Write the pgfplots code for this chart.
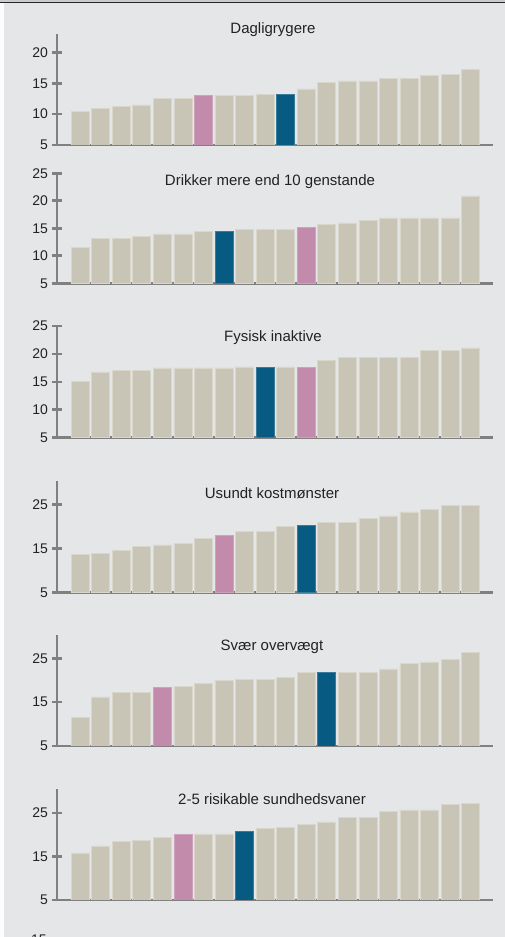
\documentclass[border=0pt]{standalone}
\usepackage{fontspec}
\setmainfont{Liberation Sans}
\usepackage{pgfplots}
\pgfplotsset{compat=1.18}
\definecolor{bg}{HTML}{E5E6E8}
\definecolor{barc}{HTML}{C8C4B6}
\definecolor{barpink}{HTML}{C28BAC}
\definecolor{barblue}{HTML}{075A82}
\definecolor{axc}{HTML}{808080}
\definecolor{txt}{HTML}{222222}
\pgfplotsset{
  panel/.style={
    scale only axis, width=436pt,
    xmin=-1.12, xmax=20.09, ymin=5,
    axis lines=left,
    axis line style={-, line width=2.8pt, color=axc},
    x axis line style={shorten <=-5pt},
    xtick=\empty,
    major tick length=9pt, tick align=center,
    tick style={line width=2.6pt, color=axc},
    yticklabel style={font=\fontsize{14}{15}\selectfont, text=txt, xshift=-1pt},
    /pgf/number format/assume math mode=true,
    enlargelimits=false,
    anchor=south west,
  },
  gb/.style={ybar, bar width=18pt, fill=barc, draw=barc!70!white, line width=0.5pt},
  pb/.style={ybar, bar width=18pt, fill=barpink, draw=barpink!80!white, line width=0.5pt},
  bb/.style={ybar, bar width=18pt, fill=barblue, draw=barblue!80!white, line width=0.5pt},
}
\tikzset{ttl/.style={text=txt, font=\fontsize{15}{17}\selectfont}}
\begin{document}
\begin{tikzpicture}
\path[use as bounding box] (0pt,0pt) rectangle (505pt,937pt);
\fill[bg] (0pt,0pt) rectangle (505pt,937pt);
\fill[white!94!bg] (0pt,0pt) rectangle (4pt,934pt);
\fill[black!20] (0pt,934pt) rectangle (505pt,937pt);
\draw[black!85, line width=1.4pt] (0pt,934.2pt) -- (505pt,934.2pt);

% Panel 1
\begin{axis}[panel, at={(57pt,792pt)}, height=111pt, ymax=23, ytick={5,10,15,20}]
\addplot[gb] coordinates {(0,10.4) (1,10.9) (2,11.3) (3,11.5) (4,12.6) (5,12.6) (7,13.0) (8,13.0) (9,13.2) (11,14.1) (12,15.2) (13,15.4) (14,15.4) (15,15.8) (16,15.8) (17,16.3) (18,16.5) (19,17.3)};
\addplot[pb] coordinates {(6,13.0)};
\addplot[bb] coordinates {(10,13.2)};
\end{axis}
\node[ttl] at (273pt,907pt) {Dagligrygere};

% Panel 2
\begin{axis}[panel, at={(57pt,653.7pt)}, height=110pt, ymax=25, ytick={5,10,15,20,25}]
\addplot[gb] coordinates {(0,11.5) (1,13.2) (2,13.2) (3,13.5) (4,14.0) (5,14.0) (6,14.5) (8,14.8) (9,14.8) (10,14.8) (12,15.7) (13,16.0) (14,16.5) (15,16.9) (16,16.9) (17,16.9) (18,16.9) (19,20.9)};
\addplot[bb] coordinates {(7,14.5)};
\addplot[pb] coordinates {(11,15.2)};
\end{axis}
\node[ttl] at (270pt,755.3pt) {Drikker mere end 10 genstande};

% Panel 3
\begin{axis}[panel, at={(57pt,499.3pt)}, height=111.7pt, ymax=25, ytick={5,10,15,20,25}]
\addplot[gb] coordinates {(0,15.1) (1,16.8) (2,17.0) (3,17.0) (4,17.5) (5,17.5) (6,17.5) (7,17.5) (8,17.7) (10,17.7) (12,18.9) (13,19.4) (14,19.4) (15,19.4) (16,19.4) (17,20.6) (18,20.6) (19,21.1)};
\addplot[bb] coordinates {(9,17.7)};
\addplot[pb] coordinates {(11,17.7)};
\end{axis}
\node[ttl] at (273pt,599pt) {Fysisk inaktive};

% Panel 4
\begin{axis}[panel, at={(57pt,344.7pt)}, height=111.6pt, ymax=30.4, ytick={5,15,25}]
\addplot[gb] coordinates {(0,13.6) (1,13.9) (2,14.5) (3,15.5) (4,15.8) (5,16.1) (6,17.3) (8,18.8) (9,18.8) (10,20.0) (12,20.9) (13,20.9) (14,21.8) (15,22.4) (16,23.3) (17,23.9) (18,24.8) (19,24.8)};
\addplot[pb] coordinates {(7,17.9)};
\addplot[bb] coordinates {(11,20.3)};
\end{axis}
\node[ttl] at (272pt,444pt) {Usundt kostmønster};

% Panel 5
\begin{axis}[panel, at={(57pt,191pt)}, height=111pt, ymax=30.3, ytick={5,15,25}]
\addplot[gb] coordinates {(0,11.6) (1,16.2) (2,17.2) (3,17.2) (5,18.6) (6,19.3) (7,19.9) (8,20.2) (9,20.2) (10,20.7) (11,21.7) (13,21.7) (14,21.7) (15,22.6) (16,23.9) (17,24.2) (18,24.8) (19,26.3)};
\addplot[pb] coordinates {(4,18.3)};
\addplot[bb] coordinates {(12,21.7)};
\end{axis}
\node[ttl] at (272pt,290pt) {Svær overvægt};

% Panel 6
\begin{axis}[panel, at={(57pt,37pt)}, height=110.7pt, ymax=30.4, ytick={5,15,25}]
\addplot[gb] coordinates {(0,15.8) (1,17.4) (2,18.4) (3,18.7) (4,19.3) (6,20.2) (7,20.2) (9,21.4) (10,21.7) (11,22.3) (12,22.9) (13,23.9) (14,23.9) (15,25.4) (16,25.7) (17,25.7) (18,26.9) (19,27.2)};
\addplot[pb] coordinates {(5,20.2)};
\addplot[bb] coordinates {(8,20.8)};
\end{axis}
\node[ttl] at (272pt,138pt) {2-5 risikable sundhedsvaner};
\node[text=txt, font=\fontsize{14}{15}\selectfont] at (39pt,-3pt) {15};
\end{tikzpicture}
\end{document}
